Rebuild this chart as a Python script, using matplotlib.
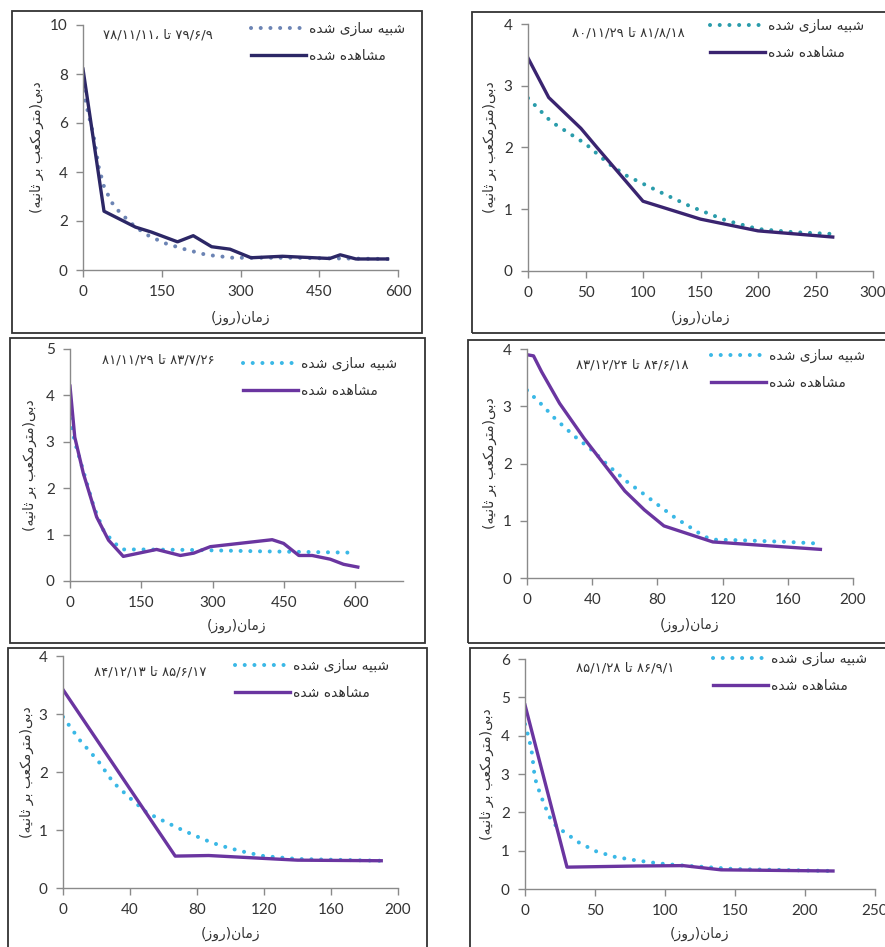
import matplotlib
matplotlib.use("Agg")
from matplotlib import pyplot as plt
from matplotlib.patches import Rectangle

# ---- data ----
p1_obs_days = [0, 40, 100, 130, 180, 210, 245, 280, 320, 380, 470, 490, 520, 580]
p1_obs_flow = [8.2, 2.4, 1.75, 1.55, 1.15, 1.4, 0.95, 0.85, 0.5, 0.56, 0.47, 0.62, 0.45, 0.45]
p1_sim_days = [0, 10, 20, 30, 40, 55, 70, 85, 100, 125, 155, 195, 235, 285, 330, 400, 450, 500, 580]
p1_sim_flow = [7.3, 6.4, 5.5, 4.2, 3.4, 2.75, 2.35, 2.05, 1.75, 1.4, 1.1, 0.84, 0.62, 0.5, 0.5, 0.5, 0.48, 0.47, 0.45]

p2_obs_days = [0, 18, 46, 60, 100, 150, 200, 265]
p2_obs_flow = [3.45, 2.81, 2.31, 2.0, 1.13, 0.84, 0.65, 0.55]
p2_sim_days = [0, 20, 50, 70, 85, 118, 142, 172, 200, 230, 265]
p2_sim_flow = [2.8, 2.42, 2.06, 1.74, 1.55, 1.25, 1.04, 0.82, 0.68, 0.63, 0.6]

p3_obs_days = [0, 10, 28, 56, 81, 112, 182, 232, 260, 295, 425, 449, 481, 509, 547, 575, 605]
p3_obs_flow = [4.2, 3.1, 2.32, 1.38, 0.88, 0.53, 0.68, 0.55, 0.6, 0.74, 0.89, 0.81, 0.55, 0.55, 0.47, 0.36, 0.3]
p3_sim_days = [0, 10, 30, 50, 70, 90, 110, 150, 250, 400, 600]
p3_sim_flow = [3.5, 3.0, 2.3, 1.6, 1.1, 0.85, 0.68, 0.68, 0.67, 0.64, 0.61]

p4_obs_days = [0, 4, 9, 20, 35, 60, 72, 84, 114, 180]
p4_obs_flow = [3.9, 3.88, 3.6, 3.05, 2.44, 1.52, 1.19, 0.91, 0.63, 0.5]
p4_sim_days = [0, 9, 17, 29, 40, 50, 61, 71, 83, 91, 101, 109, 115, 130, 160, 180]
p4_sim_flow = [3.28, 3.03, 2.79, 2.48, 2.23, 1.96, 1.69, 1.48, 1.22, 1.05, 0.87, 0.72, 0.67, 0.66, 0.63, 0.6]

p5_obs_days = [0, 67, 87, 120, 140, 190]
p5_obs_flow = [3.42, 0.55, 0.56, 0.51, 0.48, 0.47]
p5_sim_days = [0, 10, 21, 30, 40, 50, 59, 69, 79, 89, 99, 110, 120, 140, 190]
p5_sim_flow = [2.95, 2.55, 2.19, 1.82, 1.55, 1.3, 1.17, 1.03, 0.9, 0.78, 0.69, 0.61, 0.55, 0.5, 0.47]

p6_obs_days = [0, 30, 80, 113, 140, 220]
p6_obs_flow = [4.8, 0.57, 0.6, 0.61, 0.5, 0.47]
p6_sim_days = [0, 3, 5, 7, 11, 15, 19, 24, 29, 39, 51, 64, 77, 95, 110, 150, 220]
p6_sim_flow = [4.3, 3.9, 3.54, 2.9, 2.46, 2.1, 1.76, 1.59, 1.46, 1.2, 0.98, 0.84, 0.76, 0.67, 0.62, 0.52, 0.47]

p1_date = ("۷۸/۱۱/۱۱،", "۷۹/۶/۹")
p2_date = ("۸۰/۱۱/۲۹", "۸۱/۸/۱۸")
p3_date = ("۸۱/۱۱/۲۹", "۸۳/۷/۲۶")
p4_date = ("۸۳/۱۲/۲۴", "۸۴/۶/۱۸")
p5_date = ("۸۴/۱۲/۱۳", "۸۵/۶/۱۷")
p6_date = ("۸۵/۱/۲۸", "۸۶/۹/۱")

sim_label = "شبیه سازی شده"
obs_label = "مشاهده شده"
x_label = "زمان(روز)"
y_label = "دبی(مترمکعب بر ثانیه)"
to_word = "تا"

# isolated, final, initial, medial
FORMS = {
    "ا": ("\uFE8D", "\uFE8E", None, None),
    "ب": ("\uFE8F", "\uFE90", "\uFE91", "\uFE92"),
    "ت": ("\uFE95", "\uFE96", "\uFE97", "\uFE98"),
    "ث": ("\uFE99", "\uFE9A", "\uFE9B", "\uFE9C"),
    "د": ("\uFEA9", "\uFEAA", None, None),
    "ر": ("\uFEAD", "\uFEAE", None, None),
    "ز": ("\uFEAF", "\uFEB0", None, None),
    "س": ("\uFEB1", "\uFEB2", "\uFEB3", "\uFEB4"),
    "ش": ("\uFEB5", "\uFEB6", "\uFEB7", "\uFEB8"),
    "ع": ("\uFEC9", "\uFECA", "\uFECB", "\uFECC"),
    "م": ("\uFEE1", "\uFEE2", "\uFEE3", "\uFEE4"),
    "ن": ("\uFEE5", "\uFEE6", "\uFEE7", "\uFEE8"),
    "ه": ("\uFEE9", "\uFEEA", "\uFEEB", "\uFEEC"),
    "و": ("\uFEED", "\uFEEE", None, None),
    "ک": ("\uFB8E", "\uFB8F", "\uFB90", "\uFB91"),
    "ی": ("\uFBFC", "\uFBFD", "\uFBFE", "\uFBFF"),
}
MIRROR = {"(": ")", ")": "("}


def rtl(text):
    out = []
    for i, c in enumerate(text):
        if c not in FORMS:
            out.append(MIRROR.get(c, c))
            continue
        prev = text[i - 1] if i > 0 else None
        nxt = text[i + 1] if i + 1 < len(text) else None
        from_prev = prev in FORMS and FORMS[prev][2] is not None
        to_next = nxt in FORMS and FORMS[c][2] is not None
        iso, fin, ini, med = FORMS[c]
        if from_prev and to_next:
            out.append(med)
        elif from_prev:
            out.append(fin)
        elif to_next:
            out.append(ini)
        else:
            out.append(iso)
    return "".join(reversed(out))


W, H = 885, 947
fig = plt.figure(figsize=(W / 100, H / 100), dpi=100)
fig.patch.set_facecolor("white")

FA = ["DejaVu Sans"]
NUM = ["Lato", "DejaVu Sans"]


def fbox(l, t, r, b):
    return [l / W, 1 - b / H, (r - l) / W, (b - t) / H]


# panel frames
for l, t, r, b in [(12, 11, 422, 333), (472, 12, 892, 333),
                   (10, 338, 425, 643), (468, 340, 892, 643),
                   (8, 648, 427, 952), (470, 648, 892, 952)]:
    fig.add_artist(Rectangle((l / W, 1 - b / H), (r - l) / W, (b - t) / H,
                             transform=fig.transFigure, fill=False,
                             edgecolor="#333333", linewidth=1.3))

panels = [
    dict(box=(83, 25, 398, 270), xlim=600, xt=150, ylim=10, yt=2,
         obs=(p1_obs_days, p1_obs_flow), sim=(p1_sim_days, p1_sim_flow),
         oc="#2c2766", sc="#6c84b4", date=p1_date, title=(158, 35),
         leg=(405, 22), ylx=37, xly=318),
    dict(box=(528, 24, 873, 271), xlim=300, xt=50, ylim=4, yt=1,
         obs=(p2_obs_days, p2_obs_flow), sim=(p2_sim_days, p2_sim_flow),
         oc="#3a2470", sc="#2a9cab", date=p2_date, title=(628, 33),
         leg=(864, 19), ylx=490, xly=318),
    dict(box=(70, 349, 403, 581), xlim=700, xt=150, ylim=5, yt=1, xmax_tick=600,
         obs=(p3_obs_days, p3_obs_flow), sim=(p3_sim_days, p3_sim_flow),
         oc="#6a35a0", sc="#3ab8e6", date=p3_date, title=(158, 360),
         leg=(397, 357), ylx=30, xly=626),
    dict(box=(527, 349, 853, 578), xlim=200, xt=40, ylim=4, yt=1,
         obs=(p4_obs_days, p4_obs_flow), sim=(p4_sim_days, p4_sim_flow),
         oc="#6a35a0", sc="#3ab8e6", date=p4_date, title=(632, 365),
         leg=(865, 349), ylx=490, xly=625),
    dict(box=(63, 656, 398, 888), xlim=200, xt=40, ylim=4, yt=1,
         obs=(p5_obs_days, p5_obs_flow), sim=(p5_sim_days, p5_sim_flow),
         oc="#6a35a0", sc="#3ab8e6", date=p5_date, title=(150, 672),
         leg=(389, 659), ylx=27, xly=934),
    dict(box=(525, 659, 875, 889), xlim=250, xt=50, ylim=6, yt=1,
         obs=(p6_obs_days, p6_obs_flow), sim=(p6_sim_days, p6_sim_flow),
         oc="#6a35a0", sc="#3ab8e6", date=p6_date, title=(625, 668),
         leg=(867, 652), ylx=487, xly=934),
]

for p in panels:
    ax = fig.add_axes(fbox(*p["box"]))
    ax.set_facecolor("none")
    sl, = ax.plot(p["sim"][0], p["sim"][1], color=p["sc"], linewidth=2.9,
                  linestyle=(0, (0.01, 2.4)), dash_capstyle="round",
                  label=rtl(sim_label))
    ol, = ax.plot(p["obs"][0], p["obs"][1], color=p["oc"], linewidth=2.4,
                  solid_joinstyle="round", label=rtl(obs_label))
    ax.set_xlim(0, p["xlim"])
    ax.set_ylim(0, p["ylim"])
    xmax_tick = p.get("xmax_tick", p["xlim"])
    ax.set_xticks(range(0, xmax_tick + 1, p["xt"]))
    ax.set_yticks(range(0, p["ylim"] + 1, p["yt"]))
    for s in ("top", "right"):
        ax.spines[s].set_visible(False)
    for s in ("left", "bottom"):
        ax.spines[s].set_color("#8a8a8a")
        ax.spines[s].set_linewidth(1.0)
    ax.tick_params(direction="out", length=5, width=1.0, color="#8a8a8a",
                   labelsize=11, labelcolor="#333333", pad=6)
    for lab in ax.get_xticklabels() + ax.get_yticklabels():
        lab.set_family(NUM)

    d1, d2 = p["date"]
    tx, ty = p["title"]
    fig.text(tx / W, 1 - ty / H, d1 + " " + rtl(to_word) + " " + d2,
             ha="center", va="center", fontsize=9.5, family=FA, color="#333333")

    lx, ly = p["leg"]
    fig.legend(handles=[sl, ol], loc="upper right",
               bbox_to_anchor=(lx / W, 1 - ly / H), bbox_transform=fig.transFigure,
               frameon=False, prop={"family": FA, "size": 10},
               handlelength=4.0, handletextpad=0.2, labelspacing=0.9,
               borderpad=0, borderaxespad=0, labelcolor="#333333")

    l, t, r, b = p["box"]
    fig.text(p["ylx"] / W, 1 - (t + b) / 2 / H, rtl(y_label), rotation=90,
             ha="center", va="center", fontsize=10, family=FA, color="#333333")
    fig.text((l + r) / 2 / W, 1 - p["xly"] / H, rtl(x_label),
             ha="center", va="center", fontsize=10, family=FA, color="#333333")

fig.savefig("out.png", dpi=100)
